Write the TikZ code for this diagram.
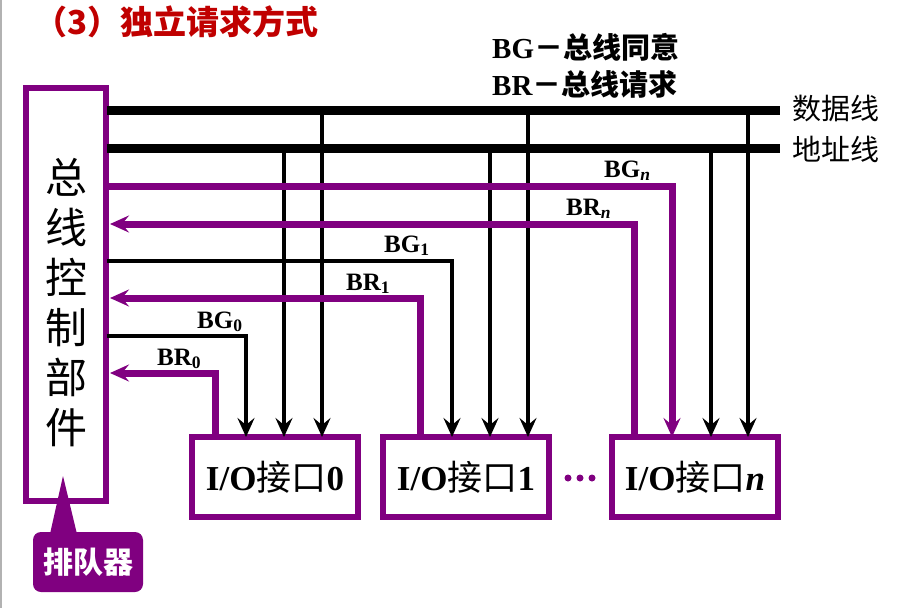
\documentclass[tikz,border=0pt]{standalone}
\usepackage{fontspec}
\setmainfont{Liberation Serif}
\newfontfamily\cjk{Noto Sans CJK SC}
\usetikzlibrary{arrows.meta}
\definecolor{pur}{HTML}{800080}
\definecolor{tred}{HTML}{C00000}
\begin{document}
\begin{tikzpicture}[x=1pt,y=-1pt,
  bus/.style={line width=9pt},
  sig/.style={line width=4.5pt},
  psig/.style={line width=7pt,pur},
  arr/.style={-{Stealth[length=19pt,width=17pt,inset=7pt]}},
  lab/.style={font=\bfseries\fontsize{25}{25}\selectfont,inner sep=0pt},
  iobox/.style={draw=pur,line width=6pt,minimum width=166pt,minimum height=80pt,inner sep=0pt,font=\bfseries\fontsize{35}{35}\selectfont}]
\useasboundingbox (0,0) rectangle (916,608);
\fill[white] (0,0) rectangle (916,608);
\draw[gray!60,line width=2pt] (1,0) -- (1,608);
\node[anchor=west,text=tred,inner sep=0pt,font=\cjk\bfseries\fontsize{33}{33}\selectfont] (title) at (34,22) {（3）独立请求方式};
\node[lab,anchor=west,font=\bfseries\fontsize{29}{29}\selectfont] (lg1) at (492,47) {BG{\cjk－总线同意}};
\node[lab,anchor=west,font=\bfseries\fontsize{29}{29}\selectfont] (lg2) at (492,84) {BR{\cjk－总线请求}};
% controller
\node[draw=pur,line width=6pt,minimum width=80pt,minimum height=413pt,inner sep=0pt] (ctl) at (66,294) {};
\node[align=center,inner sep=0pt,font=\cjk\fontsize{42}{50}\selectfont] (ctlt) at (66,303) {总\\线\\控\\制\\部\\件};
\node[fill=pur,rounded corners=8pt,minimum width=110pt,minimum height=60pt,text=white,font=\cjk\bfseries\fontsize{30}{30}\selectfont] (q) at (88,562) {排队器};
\fill[pur] (50,534) -- (63,476) -- (77,534) -- cycle;
% buses
\coordinate (d0) at (107,110); \coordinate (d1) at (780,110);
\coordinate (a0) at (107,148); \coordinate (a1) at (780,148);
\draw[bus] (d0) -- (d1); \draw[bus] (a0) -- (a1);
\node[anchor=west,inner sep=0pt,font=\cjk\fontsize{29}{29}\selectfont] (dl) at (792,108) {数据线};
\node[anchor=west,inner sep=0pt,font=\cjk\fontsize{29}{29}\selectfont] (al) at (792,149) {地址线};
% boxes
\node[iobox] (b0) at (275,477) {I/O{\cjk\mdseries 接口}0};
\node[iobox] (b1) at (466,477) {I/O{\cjk\mdseries 接口}1};
\node[iobox] (bn) at (695,477) {I/O{\cjk\mdseries 接口}\textit{n}};
\foreach \x in {568,580,592} \fill[pur] (\x,478) circle (3.5pt);
% taps
\foreach \x in {322,528,748} {\fill (\x,110) circle (4pt); \draw[sig,arr] (\x,110) -- (\x,437);}
\foreach \x in {284,490,711} {\fill (\x,148) circle (4pt); \draw[sig,arr] (\x,148) -- (\x,437);}
% signals
\draw[psig,arr] (107,186) -- (672,186) -- (672,437);
\draw[psig,arr] (634,437) -- (634,224) -- (110,224);
\draw[sig,arr] (107,261) -- (452,261) -- (452,437);
\draw[psig,arr] (420,437) -- (420,298) -- (110,298);
\draw[sig,arr] (107,336) -- (246,336) -- (246,437);
\draw[psig,arr] (215,437) -- (215,373) -- (110,373);
\node[lab,anchor=base west] (lgn) at (604,177) {BG\textsubscript{\textit{n}}};
\node[lab,anchor=base west] (lrn) at (566,215) {BR\textsubscript{\textit{n}}};
\node[lab,anchor=base west] (lg1b) at (384,252) {BG\textsubscript{1}};
\node[lab,anchor=base west] (lr1) at (346,290) {BR\textsubscript{1}};
\node[lab,anchor=base west] (lg0) at (197,328) {BG\textsubscript{0}};
\node[lab,anchor=base west] (lr0) at (157,365) {BR\textsubscript{0}};
\end{tikzpicture}
\end{document}
